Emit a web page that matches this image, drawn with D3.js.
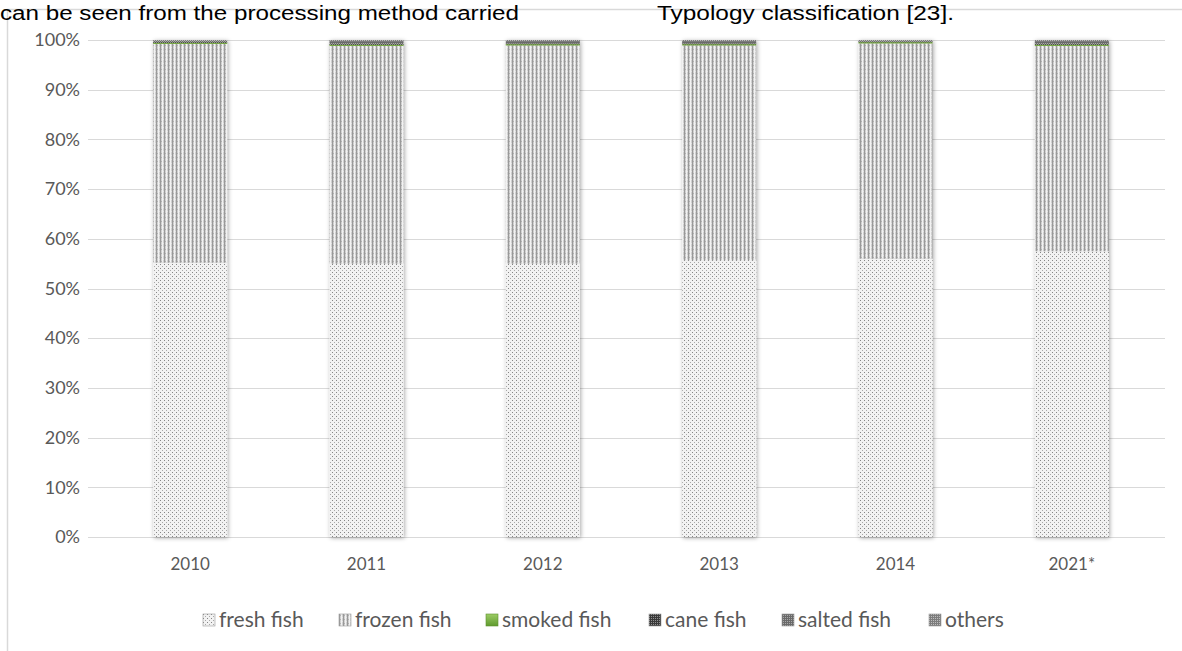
<!DOCTYPE html>
<html>
<head>
<meta charset="utf-8">
<script src="https://cdn.jsdelivr.net/npm/d3@7"></script>
<style>
  body { margin: 0; background: #fff; }
  svg { display: block; }
</style>
</head>
<body>
<svg width="1182" height="651"></svg>
<script>
const years = ['2010', '2011', '2012', '2013', '2014', '2021*'];
const seriesNames = ['fresh fish', 'frozen fish', 'smoked fish', 'cane fish', 'salted fish', 'others'];
const fresh = [55.2, 55.0, 55.0, 55.7, 56.0, 57.5];
const frozen = [44.0, 43.8, 43.9, 43.2, 43.3, 41.3];
const smoked = [0.3, 0.3, 0.3, 0.3, 0.3, 0.3];
const cane = [0.1, 0.1, 0.1, 0.1, 0.1, 0.1];
const salted = [0.2, 0.4, 0.3, 0.3, 0.1, 0.4];
const others = [0.2, 0.4, 0.4, 0.4, 0.2, 0.4];
const yTicks = [0, 0.1, 0.2, 0.3, 0.4, 0.5, 0.6, 0.7, 0.8, 0.9, 1];

const svg = d3.select('svg');
const font = 'Lato, "Open Sans", sans-serif';
const grey = '#595959';

// table for d3.stack
const table = years.map((y, i) => ({
  year: y,
  'fresh fish': fresh[i],
  'frozen fish': frozen[i],
  'smoked fish': smoked[i],
  'cane fish': cane[i],
  'salted fish': salted[i],
  'others': others[i]
}));

const defs = svg.append('defs');

// patterns
const pat = (id, size, bg, draw) => {
  const p = defs.append('pattern').attr('id', id)
    .attr('patternUnits', 'userSpaceOnUse').attr('width', size).attr('height', size);
  p.append('rect').attr('width', size).attr('height', size).attr('fill', bg);
  draw(p);
};
pat('p-fresh', 4, '#f2f2f2', (p) => {
  p.append('rect').attr('x', 0).attr('y', 0).attr('width', 1).attr('height', 1).attr('fill', '#858585');
  p.append('rect').attr('x', 2).attr('y', 2).attr('width', 1).attr('height', 1).attr('fill', '#a8a8a8');
});
pat('p-frozen', 4, '#d0d0d0', (p) => {
  p.append('rect').attr('x', 0).attr('y', 0).attr('width', 1).attr('height', 4).attr('fill', '#999');
  p.append('rect').attr('x', 2).attr('y', 0).attr('width', 1).attr('height', 4).attr('fill', '#f2f2f2');
  p.append('rect').attr('x', 1).attr('y', 1).attr('width', 1).attr('height', 1).attr('fill', '#b0b0b0');
  p.append('rect').attr('x', 3).attr('y', 3).attr('width', 1).attr('height', 1).attr('fill', '#e2e2e2');
});
pat('p-cane', 2, '#3a3a3a', (p) => {
  p.append('rect').attr('x', 0).attr('y', 0).attr('width', 1).attr('height', 1).attr('fill', '#909090');
});
pat('p-salted', 2, '#6a6a6a', (p) => {
  p.append('rect').attr('x', 1).attr('y', 1).attr('width', 1).attr('height', 1).attr('fill', '#a8a8a8');
});
pat('p-others', 2, '#7c7c7c', (p) => {
  p.append('rect').attr('x', 0).attr('y', 0).attr('width', 1).attr('height', 1).attr('fill', '#bcbcbc');
});
const green = defs.append('linearGradient').attr('id', 'g-smoked').attr('x1', 0).attr('y1', 0).attr('x2', 0).attr('y2', 1);
green.append('stop').attr('offset', '0%').attr('stop-color', '#9ccc65');
green.append('stop').attr('offset', '100%').attr('stop-color', '#5f9a2e');

const fills = {
  'fresh fish': 'url(#p-fresh)',
  'frozen fish': 'url(#p-frozen)',
  'smoked fish': '#76a844',
  'cane fish': 'url(#p-cane)',
  'salted fish': 'url(#p-salted)',
  'others': 'url(#p-others)'
};

const shadow = defs.append('filter').attr('id', 'shadow')
  .attr('x', '-20%').attr('y', '-5%').attr('width', '140%').attr('height', '110%');
shadow.append('feDropShadow').attr('dx', 1).attr('dy', 1).attr('stdDeviation', 2)
  .attr('flood-color', '#000').attr('flood-opacity', 0.35);

// frame
svg.append('rect').attr('x', 7.5).attr('y', 9.5).attr('width', 1200).attr('height', 700)
  .attr('fill', 'none').attr('stroke', '#d9d9d9').attr('stroke-width', 1.5);

// text above the chart
svg.append('text').attr('x', 0).attr('y', 20).attr('font-family', '"Liberation Sans", Arial, sans-serif')
  .attr('font-size', 20).attr('fill', '#000')
  .attr('textLength', 519).attr('lengthAdjust', 'spacingAndGlyphs')
  .text('can be seen from the processing method carried');
svg.append('text').attr('x', 657).attr('y', 20).attr('font-family', '"Liberation Sans", Arial, sans-serif')
  .attr('font-size', 20).attr('fill', '#000')
  .attr('textLength', 297).attr('lengthAdjust', 'spacingAndGlyphs')
  .text('Typology classification [23].');

const x = d3.scaleBand().domain(years).range([102, 1160]).paddingInner(0.58).paddingOuter(0.29);
const y = d3.scaleLinear().domain([0, 1]).range([537, 40]);

// grid
svg.append('g').selectAll('line').data(yTicks).enter().append('line')
  .attr('x1', 88).attr('x2', 1165)
  .attr('y1', (d) => Math.round(y(d)) + 0.5).attr('y2', (d) => Math.round(y(d)) + 0.5)
  .attr('stroke', '#d9d9d9').attr('stroke-width', 1.2);

// y axis labels
const yAxis = svg.append('g').attr('transform', 'translate(88,0)')
  .call(d3.axisLeft(y).tickValues(yTicks).tickFormat(d3.format('.0%')).tickSize(0).tickPadding(8));
yAxis.select('.domain').remove();
yAxis.selectAll('text').attr('font-family', font).attr('font-size', 18).attr('fill', grey);

// x axis labels
const xAxis = svg.append('g').attr('transform', 'translate(0,537)')
  .call(d3.axisBottom(x).tickSize(0).tickPadding(21));
xAxis.select('.domain').remove();
xAxis.selectAll('text').attr('font-family', font).attr('font-size', 17).attr('fill', grey);

// bars
const stacked = d3.stack().keys(seriesNames).offset(d3.stackOffsetExpand)(table);
const bars = svg.append('g').attr('filter', 'url(#shadow)');
bars.selectAll('g').data(stacked).enter().append('g')
  .attr('fill', (s) => fills[s.key])
  .selectAll('rect').data((s) => s).enter().append('rect')
  .attr('x', (d) => x(d.data.year))
  .attr('width', x.bandwidth())
  .attr('y', (d) => y(d[1]))
  .attr('height', (d) => Math.max(0.8, y(d[0]) - y(d[1])));

// legend
const legendX = [203, 339, 486, 649, 782, 929];
const legend = svg.append('g').selectAll('g').data(seriesNames).enter().append('g')
  .attr('transform', (d, i) => `translate(${legendX[i]},614)`);
legend.append('rect').attr('width', 12).attr('height', 12)
  .attr('fill', (d) => d === 'smoked fish' ? 'url(#g-smoked)' : fills[d])
  .attr('stroke', (d) => d === 'smoked fish' ? '#5f8f30' : '#9a9a9a').attr('stroke-width', 0.6);
legend.append('text').attr('x', 16).attr('y', 13).attr('font-family', font)
  .attr('font-size', 21).attr('fill', grey).text((d) => d);
</script>
</body>
</html>
